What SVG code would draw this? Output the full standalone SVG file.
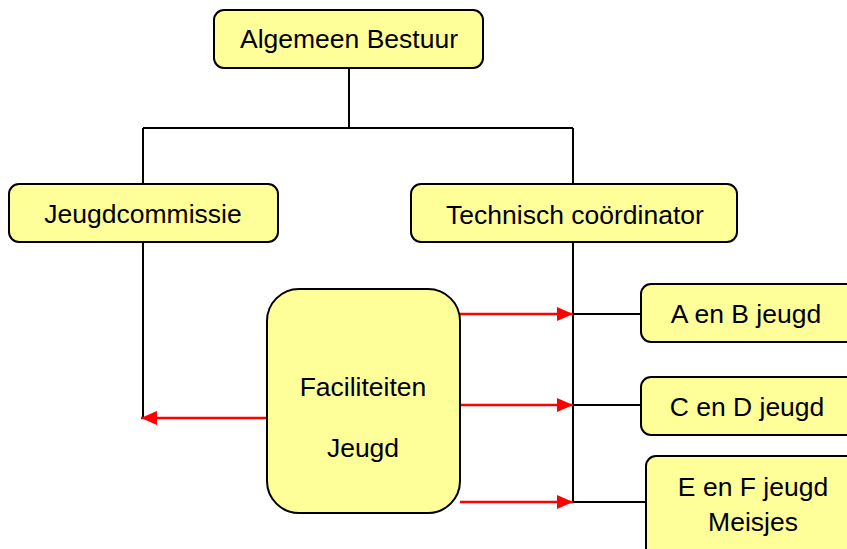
<svg xmlns="http://www.w3.org/2000/svg" width="847" height="549" viewBox="0 0 847 549">
<style>
.box{fill:#FFFF99;stroke:#000;stroke-width:2}
.t{font-family:"Liberation Sans",Arial,sans-serif;font-size:26.5px;fill:#000;text-anchor:middle}
.ln{stroke:#000;stroke-width:2;fill:none}
.red{stroke:#FF0000;stroke-width:2.5;fill:none;marker-end:url(#ah)}
</style>
<defs>
<marker id="ah" markerWidth="16" markerHeight="14" refX="16" refY="7" orient="auto" markerUnits="userSpaceOnUse">
<path d="M0,0 L16,7 L0,14 Z" fill="#FF0000"/>
</marker>
</defs>
<rect width="847" height="549" fill="#fff"/>
<g id="connectors">
<path class="ln" d="M349,68 V128 M143,128 H573 M143,128 V184 M573,128 V184 M143,242 V418 M573,242 V502 M573,314 H641 M573,405 H641 M573,502 H646"/>
<path class="red" d="M267,418 H141"/>
<path class="red" d="M460,314 H573"/>
<path class="red" d="M460,405 H573"/>
<path class="red" d="M460,502 H573"/>
</g>
<g id="algemeen-bestuur">
<rect class="box" x="214" y="10" width="269" height="58" rx="10"/>
<text class="t" x="349" y="48">Algemeen Bestuur</text>
</g>
<g id="jeugdcommissie">
<rect class="box" x="9" y="184" width="269" height="58" rx="10"/>
<text class="t" x="143" y="223">Jeugdcommissie</text>
</g>
<g id="technisch-coordinator">
<rect class="box" x="411" y="184" width="326" height="58" rx="10"/>
<text class="t" x="575" y="224">Technisch coördinator</text>
</g>
<g id="faciliteiten-jeugd">
<rect class="box" x="267" y="289" width="193" height="224" rx="32"/>
<text class="t" x="363" y="396">Faciliteiten</text>
<text class="t" x="363" y="457">Jeugd</text>
</g>
<g id="ab-jeugd">
<rect class="box" x="641" y="284" width="215" height="58" rx="10"/>
<text class="t" x="746" y="323">A en B jeugd</text>
</g>
<g id="cd-jeugd">
<rect class="box" x="641" y="377" width="215" height="58" rx="10"/>
<text class="t" x="747" y="416">C en D jeugd</text>
</g>
<g id="ef-jeugd">
<rect class="box" x="646" y="456" width="215" height="110" rx="10"/>
<text class="t" x="753" y="496">E en F jeugd</text>
<text class="t" x="753" y="531">Meisjes</text>
</g>
</svg>
